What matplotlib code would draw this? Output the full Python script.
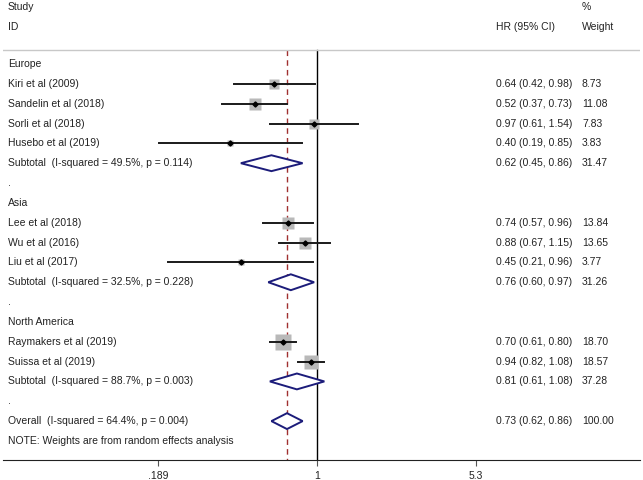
import numpy as np
import matplotlib
matplotlib.use("Agg")
import matplotlib.pyplot as plt
from matplotlib.patches import Polygon

plt.rcParams["font.family"] = ["Liberation Sans", "DejaVu Sans"]

# rows, top to bottom (kind: head / study / sub / dot / note)
labels = ["Europe", "Kiri et al (2009)", "Sandelin et al (2018)", "Sorli et al (2018)",
          "Husebo et al (2019)", "Subtotal  (I-squared = 49.5%, p = 0.114)", ".",
          "Asia", "Lee et al (2018)", "Wu et al (2016)", "Liu et al (2017)",
          "Subtotal  (I-squared = 32.5%, p = 0.228)", ".",
          "North America", "Raymakers et al (2019)", "Suissa et al (2019)",
          "Subtotal  (I-squared = 88.7%, p = 0.003)", ".",
          "Overall  (I-squared = 64.4%, p = 0.004)",
          "NOTE: Weights are from random effects analysis"]
kinds = ["head", "study", "study", "study", "study", "sub", "dot",
         "head", "study", "study", "study", "sub", "dot",
         "head", "study", "study", "sub", "dot", "sub", "note"]
hr = [None, 0.64, 0.52, 0.97, 0.40, 0.62, None,
      None, 0.74, 0.88, 0.45, 0.76, None,
      None, 0.70, 0.94, 0.81, None, 0.73, None]
lo = [None, 0.42, 0.37, 0.61, 0.19, 0.45, None,
      None, 0.57, 0.67, 0.21, 0.60, None,
      None, 0.61, 0.82, 0.61, None, 0.62, None]
hi = [None, 0.98, 0.73, 1.54, 0.85, 0.86, None,
      None, 0.96, 1.15, 0.96, 0.97, None,
      None, 0.80, 1.08, 1.08, None, 0.86, None]
weight = [None, 8.73, 11.08, 7.83, 3.83, 31.47, None,
          None, 13.84, 13.65, 3.77, 31.26, None,
          None, 18.70, 18.57, 37.28, None, 100.00, None]
overall_hr = 0.73
tick_vals = [0.189, 1, 5.3]
tick_labels = [".189", "1", "5.3"]

fig = plt.figure(figsize=(6.43, 4.80), dpi=100)
ax = fig.add_axes([3 / 643, 20 / 480, 637 / 643, 460 / 480])
ax.set_xscale("log")
ax.set_xlim(0.03716, 29.57)
ax.set_ylim(19.96, -3.226)
for s in ["top", "left", "right"]:
    ax.spines[s].set_visible(False)
ax.spines["bottom"].set_color("#222222")
ax.set_yticks([])
ax.set_xticks(tick_vals)
ax.set_xticklabels(tick_labels)
ax.xaxis.set_minor_locator(matplotlib.ticker.NullLocator())
ax.tick_params(axis="x", length=4, color="#555555", labelsize=7.5, labelcolor="#222222", pad=4)

trans = ax.get_yaxis_transform()  # x in axes frac, y in data
txt = dict(fontsize=7.5, color="#222222", va="center", ha="left")
col_id, col_hr, col_w = 5 / 637, 493 / 637, 579 / 637

# header
ax.text(col_id, -2.87, "Study", transform=trans, **txt)
ax.text(col_id, -1.865, "ID", transform=trans, **txt)
ax.text(col_hr, -1.865, "HR (95% CI)", transform=trans, **txt)
ax.text(col_w, -2.87, "%", transform=trans, **txt)
ax.text(col_w, -1.865, "Weight", transform=trans, **txt)
ax.axhline(-0.706, color="#c8c8c8", lw=1)

# reference lines
ax.plot([1, 1], [-0.706, 19.96], color="black", lw=1, zorder=1)
ax.plot([overall_hr, overall_hr], [-0.706, 19.96], color="#a03030",
        lw=1, ls=(0, (4, 3)), zorder=1)

for k, (lab, kind) in enumerate(zip(labels, kinds)):
    ax.text(col_id, k, lab, transform=trans, **txt)
    if kind not in ("study", "sub"):
        continue
    ax.text(col_hr, k, f"{hr[k]:.2f} ({lo[k]:.2f}, {hi[k]:.2f})", transform=trans, **txt)
    ax.text(col_w, k, f"{weight[k]:.2f}", transform=trans, **txt)
    if kind == "study":
        side = 2.5 * np.sqrt(weight[k])
        ax.plot(hr[k], k, marker="s", ms=side, color="#b9b9b9", mec="none", zorder=2)
        ax.plot([lo[k], hi[k]], [k, k], color="#1a1a1a", lw=1.4, zorder=3)
        ax.plot(hr[k], k, marker="D", ms=2.6, color="black", zorder=4)
    else:
        d = Polygon([[lo[k], k], [hr[k], k - 0.4], [hi[k], k], [hr[k], k + 0.4]],
                    closed=True, facecolor="white", edgecolor="#1c1c7a", lw=1.4, zorder=3)
        ax.add_patch(d)

fig.savefig("out.png", dpi=100)
